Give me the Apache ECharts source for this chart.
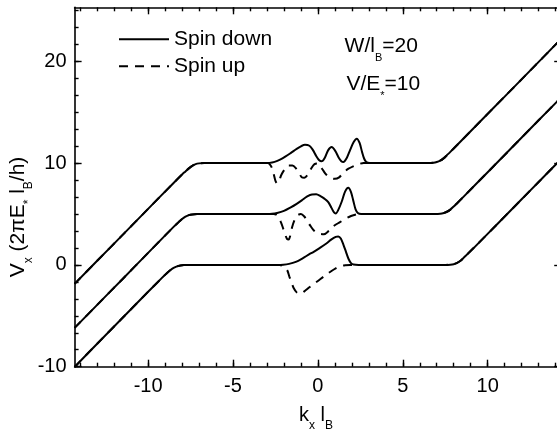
<!DOCTYPE html>
<html>
<head>
<meta charset="utf-8">
<script src="https://cdn.jsdelivr.net/npm/echarts@6/dist/echarts.min.js"></script>
<style>
html,body{margin:0;padding:0;background:#fff;}
#chart{width:557px;height:434px;}
</style>
</head>
<body>
<div id="chart"></div>
<script>
// ---- axis ranges and tick labels ----
const xMin = -14.33, xMax = 14.33;
const yMin = -10, yMax = 25.3;
const xMajorTicks = [-10, -5, 0, 5, 10];
const xTickLabels = [-10, -5, 0, 5, 10];
const yMajorTicks = [-10, 0, 10, 20];
const yTickLabels = [-10, 0, 10, 20];
const seriesNames = ['Spin down', 'Spin up'];

// ---- outer (shared) branches of the three levels: [k, V] ----
const outerLeft0 = [[-14.33,-10.03],[-13,-7.74],[-11.5,-5.19],[-10,-2.64],[-9.2,-1.3],[-8.9,-0.82],[-8.7,-0.53],[-8.5,-0.3],[-8.3,-0.15],[-8.1,-0.07],[-7.9,-0.02],[-7.6,0]];
const outerRight0 = [[7.5,0],[7.8,0.02],[8.0,0.07],[8.2,0.2],[8.4,0.4],[8.6,0.72],[8.8,1.05],[9.2,1.7],[10.5,3.9],[12,6.44],[13,8.14],[14.33,10.4]];
const outerLeft1 = [[-14.33,-6.19],[-13,-3.93],[-11.5,-1.38],[-10,1.18],[-8.5,3.73],[-8.2,4.2],[-8.0,4.5],[-7.8,4.74],[-7.6,4.89],[-7.4,4.96],[-7.1,5.0]];
const outerRight1 = [[6.9,5],[7.2,5.02],[7.4,5.08],[7.6,5.22],[7.8,5.43],[8.0,5.74],[8.2,6.06],[8.6,6.73],[10,9.1],[11.5,11.65],[13,14.2],[14.33,16.46]];
const outerLeft2 = [[-14.33,-1.87],[-13,0.4],[-11.5,2.95],[-10,5.5],[-8.5,8.05],[-8.0,8.88],[-7.8,9.18],[-7.6,9.48],[-7.4,9.73],[-7.2,9.9],[-7.0,9.97],[-6.7,10.0]];
const outerRight2 = [[6.5,10],[6.8,10.03],[7.0,10.1],[7.2,10.23],[7.4,10.46],[7.6,10.78],[7.8,11.1],[8.2,11.77],[9.5,13.98],[11,16.53],[12.5,19.08],[14.33,22.2]];

// ---- central parts, spin down (solid) ----
const down0 = [[-2.4,0],[-2.04,0.02],[-1.7,0.1],[-1.3,0.3],[-0.9,0.65],[-0.5,1.05],[-0.27,1.26],[0.1,1.65],[0.5,2.1],[0.8,2.5],[1.05,2.75],[1.2,2.8],[1.35,2.6],[1.5,2.0],[1.65,1.3],[1.8,0.6],[1.95,0.18],[2.1,0.04],[2.4,0]];
const down1 = [[-3.0,5],[-2.7,5.02],[-2.4,5.1],[-2.0,5.3],[-1.6,5.65],[-1.25,6.0],[-0.95,6.34],[-0.65,6.7],[-0.35,6.92],[-0.1,6.93],[0.15,6.75],[0.4,6.48],[0.61,6.17],[0.8,5.6],[0.95,5.15],[1.05,5.05],[1.2,5.4],[1.4,6.2],[1.6,7.2],[1.79,7.58],[1.95,7.15],[2.1,6.2],[2.22,5.45],[2.35,5.1],[2.55,5.0],[2.8,5.0]];
const down2 = [[-3.2,10],[-2.85,10.02],[-2.55,10.12],[-2.23,10.33],[-1.9,10.65],[-1.55,11.05],[-1.25,11.4],[-1.0,11.65],[-0.76,11.8],[-0.5,11.7],[-0.3,11.3],[-0.1,10.7],[0.08,10.27],[0.22,10.17],[0.4,10.5],[0.6,11.25],[0.81,11.57],[1.02,11.2],[1.22,10.55],[1.38,10.18],[1.5,10.1],[1.7,10.5],[1.9,11.3],[2.1,12.05],[2.29,12.4],[2.45,12.0],[2.6,11.1],[2.72,10.45],[2.85,10.1],[3.05,10.0],[3.3,10]];

// ---- central parts, spin up (dashed) ----
const up0 = [[-2.6,0],[-2.25,0],[-2.1,-0.08],[-1.95,-0.25],[-1.8,-0.55],[-1.68,-1.15],[-1.55,-1.75],[-1.42,-2.3],[-1.25,-2.7],[-1.05,-2.85],[-0.8,-2.6],[-0.5,-2.2],[-0.25,-1.88],[0.0,-1.58],[0.3,-1.2],[0.55,-0.9],[0.8,-0.6],[1.05,-0.34],[1.3,-0.14],[1.6,-0.03],[1.9,0],[2.3,0]];
const up1 = [[-3.0,5],[-2.6,5],[-2.45,4.92],[-2.3,4.65],[-2.18,4.2],[-2.07,3.7],[-1.94,3.05],[-1.82,2.55],[-1.72,2.5],[-1.62,2.95],[-1.52,3.7],[-1.38,4.4],[-1.22,4.85],[-1.0,5.0],[-0.8,4.75],[-0.62,4.3],[-0.45,3.85],[-0.25,3.4],[0.0,3.1],[0.35,3.0],[0.65,3.35],[0.9,3.78],[1.3,4.2],[1.6,4.5],[1.95,4.8],[2.3,4.97],[2.6,5.0],[3.0,5.0]];
const up2 = [[-3.2,10],[-2.95,10],[-2.82,9.85],[-2.7,9.5],[-2.6,8.9],[-2.5,8.25],[-2.4,8.0],[-2.3,8.2],[-2.15,8.85],[-1.95,9.4],[-1.75,9.75],[-1.5,9.75],[-1.3,9.5],[-1.1,9.0],[-0.95,8.6],[-0.8,8.55],[-0.6,8.85],[-0.4,9.45],[-0.2,9.9],[0.0,9.95],[0.15,9.65],[0.3,9.3],[0.5,8.85],[0.75,8.55],[1.0,8.45],[1.25,8.6],[1.5,9.05],[1.8,9.45],[2.1,9.7],[2.4,9.9],[2.7,10],[3.1,10]];

// ---- build ----
const FONT = '"Liberation Sans", Arial, Helvetica, sans-serif';
const BLACK = '#000';
const xMinorTicks = [];
for (let k = -14; k <= 14; k++) xMinorTicks.push(k);
const yMinorTicks = [];
for (let i = 0; i <= 21; i++) yMinorTicks.push(-10 + i * 10 / 6);

function xAx(position, ticks, len, line, labels) {
  return {
    type: 'value', gridIndex: 0, position: position, min: xMin, max: xMax,
    axisLine: { show: line, onZero: false, lineStyle: { color: BLACK, width: 1.6 } },
    axisTick: { show: true, inside: true, length: len, customValues: ticks, lineStyle: { color: BLACK, width: 1.4 } },
    axisLabel: labels ? { show: true, customValues: labels, margin: 10, fontSize: 20, color: BLACK, fontFamily: FONT } : { show: false },
    splitLine: { show: false }, minorTick: { show: false }
  };
}
function yAx(position, ticks, len, line, labels) {
  return {
    type: 'value', gridIndex: 0, position: position, min: yMin, max: yMax,
    axisLine: { show: line, onZero: false, lineStyle: { color: BLACK, width: 1.6 } },
    axisTick: { show: true, inside: true, length: len, customValues: ticks, lineStyle: { color: BLACK, width: 1.4 } },
    axisLabel: labels ? { show: true, customValues: labels, margin: 8, fontSize: 20, color: BLACK, fontFamily: FONT } : { show: false },
    splitLine: { show: false }, minorTick: { show: false }
  };
}

const solidLevels = [outerLeft0.concat(down0, outerRight0), outerLeft1.concat(down1, outerRight1), outerLeft2.concat(down2, outerRight2)];
const dashedLevels = [outerLeft0.concat(up0, outerRight0), outerLeft1.concat(up1, outerRight1), outerLeft2.concat(up2, outerRight2)];

const series = [];
solidLevels.forEach(d => series.push({
  name: seriesNames[0], type: 'line', data: d, symbol: 'none', smooth: 0.3,
  lineStyle: { color: BLACK, width: 2, type: 'solid' }, itemStyle: { color: BLACK }, z: 3, clip: true
}));
dashedLevels.forEach(d => series.push({
  name: seriesNames[1], type: 'line', data: d, symbol: 'none', smooth: 0.3,
  lineStyle: { color: BLACK, width: 2, type: [9, 7] }, itemStyle: { color: BLACK }, z: 4, clip: true
}));

const mainRich = (size, lh) => ({ fontSize: size, fontFamily: FONT, fill: BLACK, lineHeight: lh });
const subRich = (size, lh) => ({ fontSize: size, fontFamily: FONT, fill: BLACK, lineHeight: lh, verticalAlign: 'bottom' });
const hiddenSymbol = { color: 'rgba(0,0,0,0)', opacity: 0, borderWidth: 0 };

const chart = echarts.init(document.getElementById('chart'), null, { renderer: 'canvas' });
chart.setOption({
  animation: false,
  backgroundColor: '#fff',
  grid: { left: 74.6, top: 7.3, width: 486.6, height: 359.4, containLabel: false, outerBoundsMode: 'none' },
  xAxis: [xAx('bottom', xMajorTicks, 7, true, xTickLabels), xAx('bottom', xMinorTicks, 4, false, null),
          xAx('top', xMajorTicks, 7, true, null), xAx('top', xMinorTicks, 4, false, null)],
  yAxis: [yAx('left', yMajorTicks, 7, true, yTickLabels), yAx('left', yMinorTicks, 4, false, null),
          yAx('right', yMajorTicks, 7, true, null), yAx('right', yMinorTicks, 4, false, null)],
  legend: {
    orient: 'vertical', left: 118, top: 25.8, padding: 0, itemGap: 0,
    itemWidth: 50, itemHeight: 14,
    textStyle: { fontSize: 21, fontFamily: FONT, color: BLACK, lineHeight: 27 },
    itemStyle: hiddenSymbol,
    data: [
      { name: seriesNames[0], itemStyle: hiddenSymbol, lineStyle: { color: BLACK, width: 2, type: 'solid' } },
      { name: seriesNames[1], itemStyle: hiddenSymbol, lineStyle: { color: BLACK, width: 2, type: [9, 7] } }
    ],
    selectedMode: false
  },
  graphic: [
    { type: 'text', x: 316, y: 415, style: { text: '{m|k}{s|x}{m| l}{s|B}', align: 'center', verticalAlign: 'middle',
      rich: { m: mainRich(20, 34), s: subRich(12, 14) } } },
    { type: 'text', x: 18, y: 217, rotation: Math.PI / 2, style: { text: '{m|V}{s|x}{m| (2πE}{s|*}{m| l}{s|B}{m|/h)}', align: 'center', verticalAlign: 'middle',
      rich: { m: mainRich(21, 34), s: subRich(12, 14) } } },
    { type: 'text', x: 344.6, y: 46.7, style: { text: '{m|W/l}{s|B}{m|=20}', align: 'left', verticalAlign: 'middle',
      rich: { m: mainRich(21, 34), s: subRich(11, 14) } } },
    { type: 'text', x: 346.4, y: 84, style: { text: '{m|V/E}{s|*}{m|=10}', align: 'left', verticalAlign: 'middle',
      rich: { m: mainRich(21, 34), s: subRich(11, 14) } } }
  ],
  series: series
});
</script>
</body>
</html>
